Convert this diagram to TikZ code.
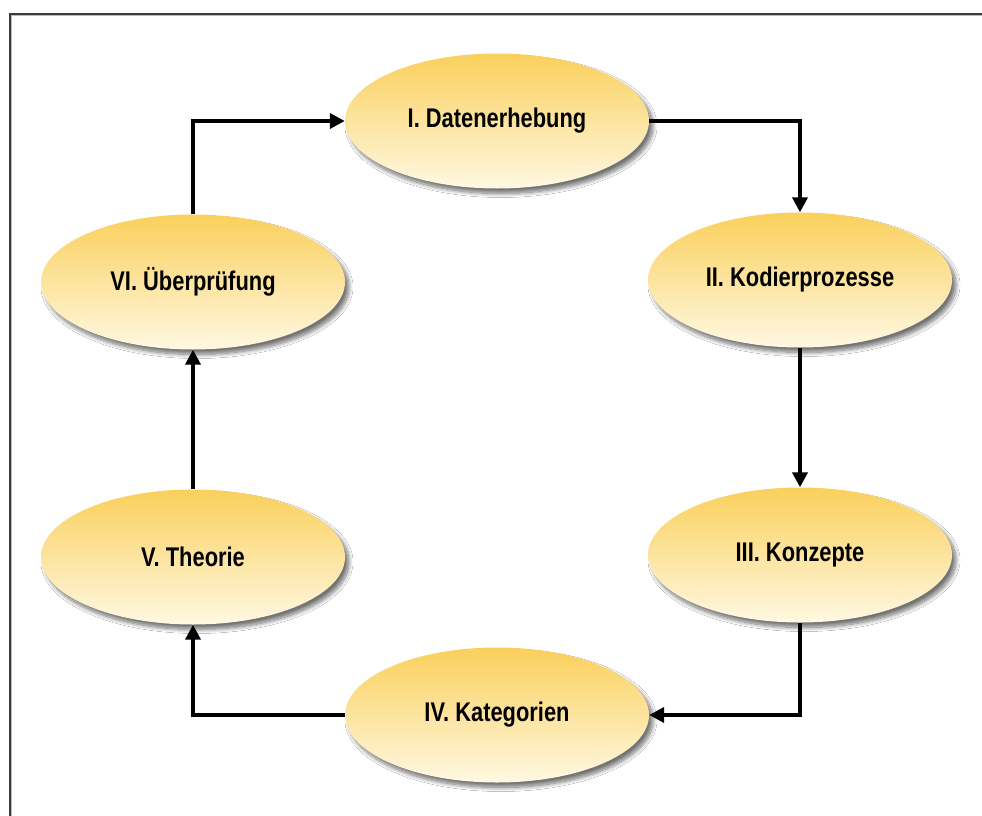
\documentclass[tikz,border=0pt]{standalone}
\usepackage{fontspec}
\setmainfont{Liberation Sans}[FakeStretch=0.81]
\usetikzlibrary{shapes.geometric,shadows.blur,arrows.meta}
\definecolor{ytop}{RGB}{250,208,92}
\definecolor{ybot}{RGB}{255,248,226}
\definecolor{framedark}{RGB}{60,60,60}
\definecolor{framelight}{RGB}{185,185,185}
\tikzset{
  stage/.style={ellipse, minimum width=304pt, minimum height=135pt, inner sep=0pt,
    top color=ytop, bottom color=ybot, draw=none,
    blur shadow={shadow xshift=4pt, shadow yshift=-5pt, shadow blur radius=4pt, shadow blur steps=10, shadow opacity=55},
    font=\bfseries\fontsize{27}{31}\selectfont},
  flow/.style={line width=4pt, -{Triangle[length=15pt,width=15pt]}}
}
\begin{document}
\begin{tikzpicture}[x=1pt,y=-1pt]
\useasboundingbox (0,0) rectangle (982,816);
\fill[white] (0,0) rectangle (982,816);
\draw[framelight, line width=1.2pt] (11.8,816) -- (11.8,15.8) -- (982,15.8);
\draw[framedark, line width=1.6pt] (10,816) -- (10,14) -- (982,14);
\node[stage] (i)   at (497,121) {I. Datenerhebung};
\node[stage] (ii)  at (800,280) {II. Kodierprozesse};
\node[stage] (iii) at (800,555) {III. Konzepte};
\node[stage] (iv)  at (497,715) {IV. Kategorien};
\node[stage] (v)   at (193,557) {V. Theorie};
\node[stage] (vi)  at (193,282) {VI. Überprüfung};
\draw[flow] (i.east) -- (800,121) -- (ii.north);
\draw[flow] (ii.south) -- (iii.north);
\draw[flow] (iii.south) -- (800,715) -- (iv.east);
\draw[flow] (iv.west) -- (193,715) -- (v.south);
\draw[flow] (v.north) -- (vi.south);
\draw[flow] (vi.north) -- (193,121) -- (i.west);
\end{tikzpicture}
\end{document}
